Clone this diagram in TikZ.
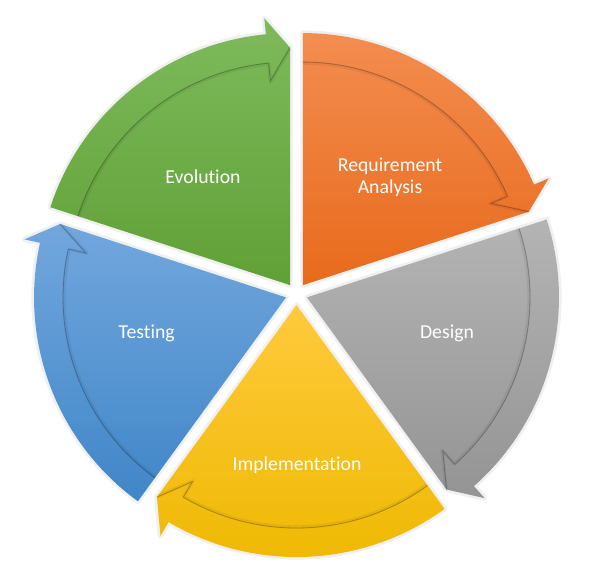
\documentclass[tikz,border=0pt]{standalone}
\usepackage{fontspec}
\setmainfont{Carlito}[Ligatures=NoCommon]
\definecolor{evoTop}{RGB}{126,186,92}
\definecolor{evoBot}{RGB}{96,160,54}
\definecolor{reqTop}{RGB}{243,141,80}
\definecolor{reqBot}{RGB}{232,106,28}
\definecolor{desTop}{RGB}{180,180,180}
\definecolor{desBot}{RGB}{148,148,148}
\definecolor{impTop}{RGB}{255,202,60}
\definecolor{impBot}{RGB}{238,184,0}
\definecolor{tstTop}{RGB}{114,167,221}
\definecolor{tstBot}{RGB}{64,134,200}

\begin{document}
\begin{tikzpicture}[x=0.75pt,y=0.75pt,
    seglabel/.style={text=white,font=\fontsize{14.8}{16.5}\selectfont,align=center},
    halo/.style={line width=4,black,opacity=0.06,line join=round},
    bandline/.style={line width=0.6pt,black,opacity=0.25}]
\useasboundingbox (-296.5,-286) rectangle (301.5,294);
\foreach \mid/\seg in {126/evo,54/req,-18/des,-90/imp,198/tst}{
  \begin{scope}[shift={(\mid:11)}]
    \draw[halo] (0,0) -- (\mid+36:252) arc[start angle=\mid+36,end angle=\mid-30.5,radius=252]
      -- (\mid-30.5:268) -- (\mid-36:237.5) -- cycle;
    \shade[top color=\seg Top,bottom color=\seg Bot] (0,0) -- (\mid+36:252)
      arc[start angle=\mid+36,end angle=\mid-30.5,radius=252]
      -- (\mid-30.5:268) -- (\mid-36:237.5) -- cycle;
    \draw[halo,line width=2.5] (\mid+36:222) arc[start angle=\mid+36,end angle=\mid-30.5,radius=222]
      -- (\mid-30.5:204) -- (\mid-36:236.5);
    \draw[bandline] (\mid+36:223) arc[start angle=\mid+36,end angle=\mid-30.5,radius=223]
      -- (\mid-30.5:205) -- (\mid-36:237.5);
  \end{scope}
}
\node[seglabel] (evo) at (-93.5,117) {Evolution};
\node[seglabel] (req) at (93.5,117) {Requirement\\Analysis};
\node[seglabel] (des) at (150.5,-39) {Design};
\node[seglabel] (imp) at (0.5,-171) {Implementation};
\node[seglabel] (tst) at (-149.8,-39) {Testing};
\end{tikzpicture}
\end{document}
